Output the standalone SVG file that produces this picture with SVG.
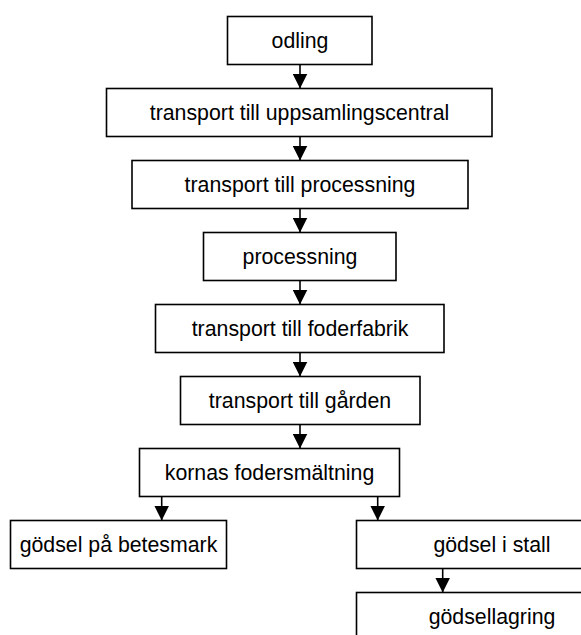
<svg xmlns="http://www.w3.org/2000/svg" width="581" height="635" viewBox="0 0 581 635">
<defs>
<marker id="arr" markerUnits="userSpaceOnUse" markerWidth="15" markerHeight="15" viewBox="0 0 15 15" refX="15" refY="7.5" orient="auto">
<path d="M0,0 L15,7.5 L0,15 z" fill="#000"/>
</marker>
<style>
.box{fill:#fff;stroke:#000;stroke-width:1.6}
.lbl{font-family:"Liberation Sans",Arial,sans-serif;font-size:21.3px;fill:#000;text-anchor:middle}
.con{stroke:#000;stroke-width:1.6;fill:none;marker-end:url(#arr)}
</style>
</defs>
<rect width="581" height="635" fill="#fff"/>
<g id="connectors">
<line class="con" x1="300" y1="64.5" x2="300" y2="88.5"/>
<line class="con" x1="300" y1="136.5" x2="300" y2="160.5"/>
<line class="con" x1="300" y1="208.5" x2="300" y2="232.5"/>
<line class="con" x1="300" y1="280.5" x2="300" y2="304.5"/>
<line class="con" x1="300" y1="352.5" x2="300" y2="376.5"/>
<line class="con" x1="300" y1="424.5" x2="300" y2="448.5"/>
<line class="con" x1="161.7" y1="496.5" x2="161.7" y2="520.5"/>
<line class="con" x1="377.7" y1="496.5" x2="377.7" y2="520.5"/>
<line class="con" x1="442.7" y1="568.5" x2="442.7" y2="592.5"/>
</g>
<g id="odling"><rect class="box" x="227.5" y="16.5" width="144.5" height="48"/><text class="lbl" x="300" y="47.8">odling</text></g>
<g id="uppsamling"><rect class="box" x="106.5" y="88.5" width="385.5" height="48"/><text class="lbl" x="299.5" y="119.8">transport till uppsamlingscentral</text></g>
<g id="transport-processning"><rect class="box" x="132" y="160.5" width="336" height="48"/><text class="lbl" x="300" y="191.8">transport till processning</text></g>
<g id="processning"><rect class="box" x="203.5" y="232.5" width="192.5" height="48"/><text class="lbl" x="300" y="263.8">processning</text></g>
<g id="foderfabrik"><rect class="box" x="155.5" y="304.5" width="288.5" height="48"/><text class="lbl" x="300" y="335.8">transport till foderfabrik</text></g>
<g id="garden"><rect class="box" x="180.5" y="376.5" width="239.5" height="48"/><text class="lbl" x="300" y="407.8">transport till gården</text></g>
<g id="kornas"><rect class="box" x="139.5" y="448.5" width="260" height="48"/><text class="lbl" x="269.5" y="479.8">kornas fodersmältning</text></g>
<g id="betesmark"><rect class="box" x="10.5" y="520.5" width="216" height="48"/><text class="lbl" x="118.5" y="551.8">gödsel på betesmark</text></g>
<g id="stall"><rect class="box" x="356.5" y="520.5" width="271" height="48"/><text class="lbl" x="492" y="551.8">gödsel i stall</text></g>
<g id="godsellagring"><rect class="box" x="356.5" y="592.5" width="271" height="48"/><text class="lbl" x="492" y="623.8">gödsellagring</text></g>
</svg>
